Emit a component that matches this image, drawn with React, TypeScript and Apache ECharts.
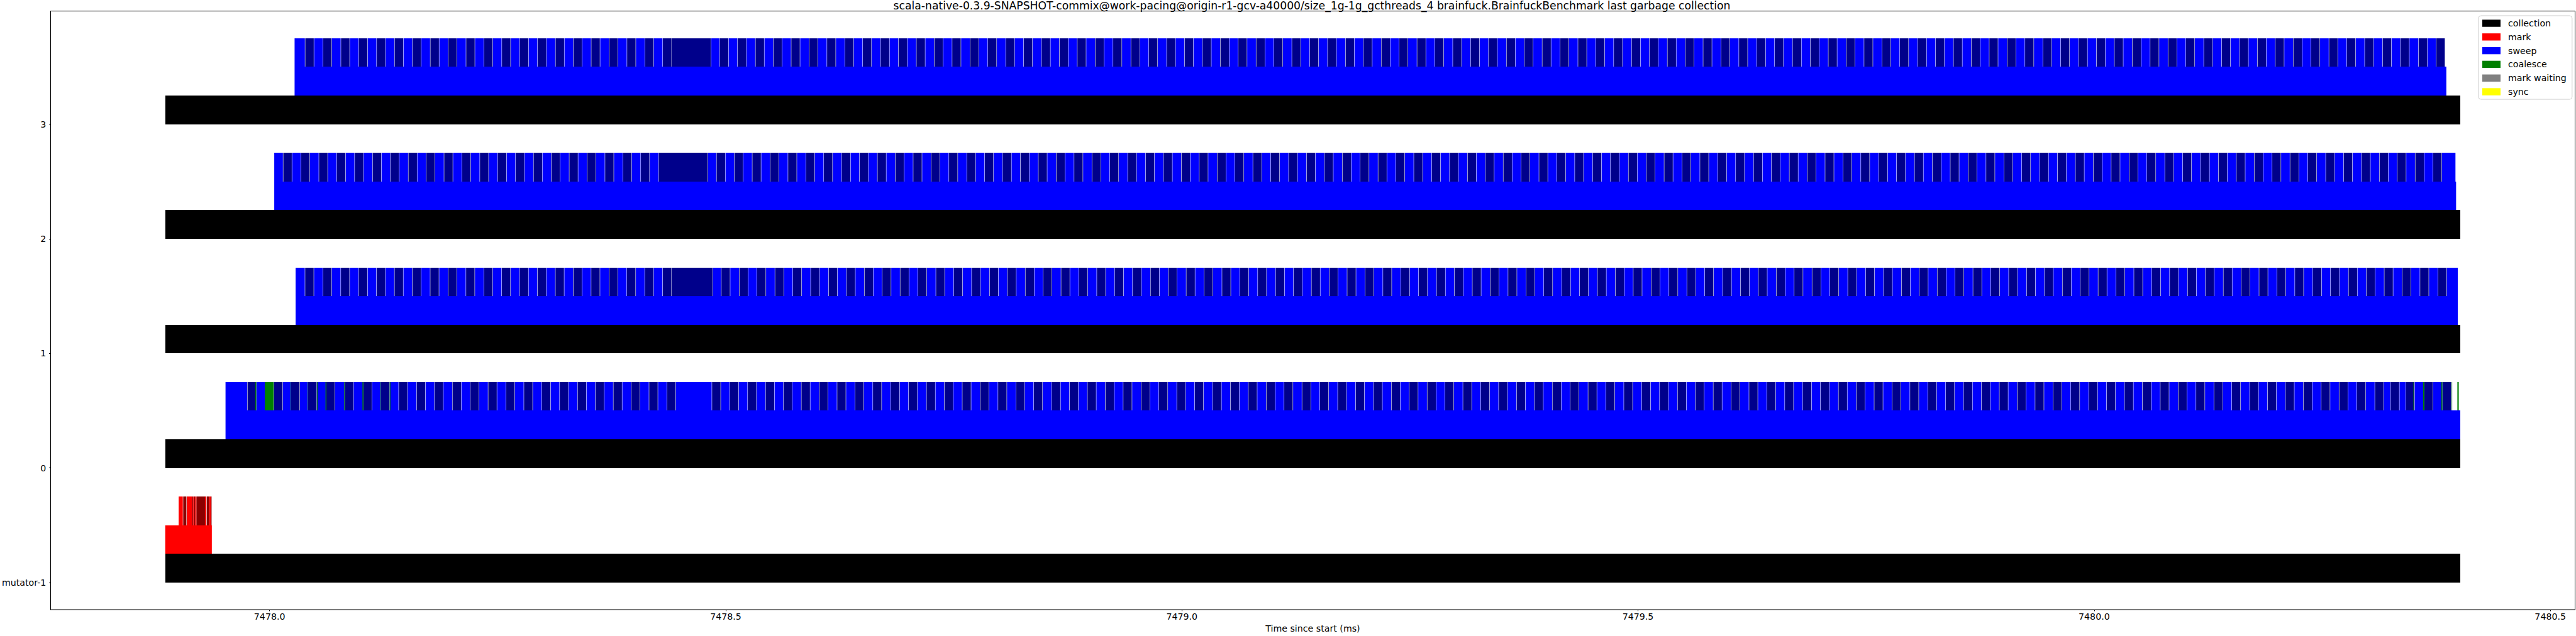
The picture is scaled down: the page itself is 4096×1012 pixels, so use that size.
import React, { useEffect, useRef } from "react";
import * as echarts from "echarts";

const TITLE =
  "scala-native-0.3.9-SNAPSHOT-commix@work-pacing@origin-r1-gcv-a40000/size_1g-1g_gcthreads_4 brainfuck.BrainfuckBenchmark last garbage collection";
const X_NAME = "Time since start (ms)";
const ROW_LABELS = ["mutator-1", "0", "1", "2", "3"];
const ROW_Y = [-1, 0, 1, 2, 3];
const X_TICKS = [7478.0, 7478.5, 7479.0, 7479.5, 7480.0, 7480.5];
const X_MIN = 7477.7599;
const X_MAX = 7480.5271;
const Y_MIN = -1.2375;
const Y_MAX = 3.9875;
const LEGEND_NAMES = ["collection", "mark", "sweep", "coalesce", "mark waiting", "sync"];
const LEGEND_COLORS = ["#000000", "#ff0000", "#0000ff", "#008000", "#808080", "#ffff00"];

// shade codes -> [series index, colour]
const SHADES: Record<string, [number, string]> = {
  K: [0, "#000000"],
  R: [1, "#ff0000"],
  D: [1, "#8b0000"],
  B: [2, "#0000ff"],
  N: [2, "#00008b"],
  G: [3, "#008000"],
  M: [4, "#808080"],
  Y: [5, "#ffff00"],
};

// level 0: collection bars (rows mutator-1, 0, 1, 2, 3)
const COLLECTION: [number, number][] = [
  [7477.8857, 7480.4013],
  [7477.8857, 7480.4013],
  [7477.8857, 7480.4013],
  [7477.8857, 7480.4013],
  [7477.8857, 7480.4013],
];

// level 1: phase bars per row [start, end, shade]
const PHASE: [number, number, string][][] = [
  [[7477.8856, 7477.9367, "R"]],
  [[7477.9517, 7480.4013, "B"]],
  [[7478.0285, 7480.3986, "B"]],
  [[7478.0051, 7480.3967, "B"]],
  [[7478.0274, 7480.386, "B"]],
];

// level 2, mutator-1: mark batches
const EVENTS_MUT: [number, number, string][] = [
  [7477.9003, 7477.9049, "R"],
  [7477.9053, 7477.9088, "D"],
  [7477.9092, 7477.9153, "R"],
  [7477.9153, 7477.9163, "D"],
  [7477.9163, 7477.9174, "R"],
  [7477.9174, 7477.9185, "D"],
  [7477.9185, 7477.9199, "R"],
  [7477.9199, 7477.9292, "D"],
  [7477.9292, 7477.9306, "R"],
  [7477.9311, 7477.9338, "D"],
  [7477.9338, 7477.9355, "R"],
  [7477.9355, 7477.9364, "D"],
];

// level 2, gc threads 0..3: sweep batch span, dark-batch starts, long dark batches
const SWEEP_SPAN: [number, number][] = [
  [7477.9517, 7480.3913],
  [7478.0285, 7480.3986],
  [7478.0051, 7480.396],
  [7478.0274, 7480.3843],
];
const DARK_W = 0.0093;
const DARK_0 = [
  7477.9758, 7478.0049, 7478.0236, 7478.0422, 7478.0622, 7478.0825, 7478.1028, 7478.122,
  7478.1417, 7478.1613, 7478.1809, 7478.2005, 7478.2201, 7478.2397, 7478.2593, 7478.2789,
  7478.2985, 7478.3181, 7478.3377, 7478.3573, 7478.3769, 7478.3965, 7478.4161, 7478.4357,
  7478.485, 7478.5046, 7478.5242, 7478.5438, 7478.5634, 7478.583, 7478.6026, 7478.6222,
  7478.6418, 7478.6614, 7478.681, 7478.7006, 7478.7202, 7478.7398, 7478.7594, 7478.779,
  7478.7986, 7478.8182, 7478.8378, 7478.8574, 7478.877, 7478.8966, 7478.9162, 7478.9358,
  7478.9554, 7478.975, 7478.9946, 7479.0142, 7479.0338, 7479.0534, 7479.073, 7479.0926,
  7479.1122, 7479.1318, 7479.1514, 7479.171, 7479.1906, 7479.2102, 7479.2298, 7479.2494,
  7479.269, 7479.2886, 7479.3082, 7479.3278, 7479.3474, 7479.367, 7479.3866, 7479.4062,
  7479.4258, 7479.4454, 7479.465, 7479.4846, 7479.5042, 7479.5238, 7479.5434, 7479.563,
  7479.5826, 7479.6022, 7479.6218, 7479.6414, 7479.661, 7479.6806, 7479.7002, 7479.7198,
  7479.7394, 7479.759, 7479.7786, 7479.7982, 7479.8178, 7479.8374, 7479.857, 7479.8766,
  7479.8962, 7479.9158, 7479.9354, 7479.955, 7479.9746, 7479.9942, 7480.0138, 7480.0334,
  7480.053, 7480.0726, 7480.0922, 7480.1118, 7480.1314, 7480.151, 7480.1706, 7480.1902,
  7480.2098, 7480.2294, 7480.249, 7480.2686, 7480.2882, 7480.3078, 7480.325, 7480.3417,
  7480.3619, 7480.382,
];
const DARK_1 = [
  7478.039, 7478.0586, 7478.0782, 7478.0978, 7478.1174, 7478.137, 7478.1566, 7478.1762,
  7478.1958, 7478.2154, 7478.235, 7478.2546, 7478.2742, 7478.2938, 7478.3134, 7478.333,
  7478.3526, 7478.3722, 7478.3918, 7478.4114, 7478.431,
  7478.4953, 7478.5149, 7478.5345, 7478.5541, 7478.5737, 7478.5933, 7478.6129, 7478.6325,
  7478.6521, 7478.6717, 7478.6913, 7478.7109, 7478.7305, 7478.7501, 7478.7697, 7478.7893,
  7478.8089, 7478.8285, 7478.8481, 7478.8677, 7478.8873, 7478.9069, 7478.9265, 7478.9461,
  7478.9657, 7478.9853, 7479.0049, 7479.0245, 7479.0441, 7479.0637, 7479.0833, 7479.1029,
  7479.1225, 7479.1421, 7479.1617, 7479.1813, 7479.2009, 7479.2205, 7479.2401, 7479.2597,
  7479.2793, 7479.2989, 7479.3185, 7479.3381, 7479.3577, 7479.3773, 7479.3969, 7479.4165,
  7479.4361, 7479.4557, 7479.4753, 7479.4949, 7479.5145, 7479.5341, 7479.5537, 7479.5733,
  7479.5929, 7479.6125, 7479.6321, 7479.6517, 7479.6713, 7479.6909, 7479.7105, 7479.7301,
  7479.7497, 7479.7693, 7479.7889, 7479.8085, 7479.8281, 7479.8477, 7479.8673, 7479.8869,
  7479.9065, 7479.9261, 7479.9457, 7479.9653, 7479.9849, 7480.0045, 7480.0241, 7480.0437,
  7480.0633, 7480.0829, 7480.1025, 7480.1221, 7480.1417, 7480.1613, 7480.1809, 7480.2005,
  7480.2201, 7480.2397, 7480.2593, 7480.2789, 7480.2985, 7480.3181, 7480.3377, 7480.3573,
  7480.3769,
];
const DARK_2 = [
  7478.015, 7478.0346, 7478.0542, 7478.0738, 7478.0934, 7478.113, 7478.1326, 7478.1522,
  7478.1718, 7478.1914, 7478.211, 7478.2306, 7478.2502, 7478.2698, 7478.2894, 7478.309,
  7478.3286, 7478.3482, 7478.3678, 7478.3874, 7478.407,
  7478.49, 7478.5096, 7478.5292, 7478.5488, 7478.5684, 7478.588, 7478.6076, 7478.6272,
  7478.6468, 7478.6664, 7478.686, 7478.7056, 7478.7252, 7478.7448, 7478.7644, 7478.784,
  7478.8036, 7478.8232, 7478.8428, 7478.8624, 7478.882, 7478.9016, 7478.9212, 7478.9408,
  7478.9604, 7478.98, 7478.9996, 7479.0192, 7479.0388, 7479.0584, 7479.078, 7479.0976,
  7479.1172, 7479.1368, 7479.1564, 7479.176, 7479.1956, 7479.2152, 7479.2348, 7479.2544,
  7479.274, 7479.2936, 7479.3132, 7479.3328, 7479.3524, 7479.372, 7479.3916, 7479.4112,
  7479.4308, 7479.4504, 7479.47, 7479.4896, 7479.5092, 7479.5288, 7479.5484, 7479.568,
  7479.5876, 7479.6072, 7479.6268, 7479.6464, 7479.666, 7479.6856, 7479.7052, 7479.7248,
  7479.7444, 7479.764, 7479.7836, 7479.8032, 7479.8228, 7479.8424, 7479.862, 7479.8816,
  7479.9012, 7479.9208, 7479.9404, 7479.96, 7479.9796, 7479.9992, 7480.0188, 7480.0384,
  7480.058, 7480.0776, 7480.0972, 7480.1168, 7480.1364, 7480.156, 7480.1756, 7480.1952,
  7480.2148, 7480.2344, 7480.254, 7480.2736, 7480.2932, 7480.3128, 7480.3324, 7480.352,
  7480.3716,
];
const DARK_3 = [
  7478.0391, 7478.0587, 7478.0783, 7478.0979, 7478.1175, 7478.1371, 7478.1567, 7478.1763,
  7478.1959, 7478.2155, 7478.2351, 7478.2547, 7478.2743, 7478.2939, 7478.3135, 7478.3331,
  7478.3527, 7478.3723, 7478.3919, 7478.4115, 7478.4311,
  7478.4935, 7478.5131, 7478.5327, 7478.5523, 7478.5719, 7478.5915, 7478.6111, 7478.6307,
  7478.6503, 7478.6699, 7478.6895, 7478.7091, 7478.7287, 7478.7483, 7478.7679, 7478.7875,
  7478.8071, 7478.8267, 7478.8463, 7478.8659, 7478.8855, 7478.9051, 7478.9247, 7478.9443,
  7478.9639, 7478.9835, 7479.0031, 7479.0227, 7479.0423, 7479.0619, 7479.0815, 7479.1011,
  7479.1207, 7479.1403, 7479.1599, 7479.1795, 7479.1991, 7479.2187, 7479.2383, 7479.2579,
  7479.2775, 7479.2971, 7479.3167, 7479.3363, 7479.3559, 7479.3755, 7479.3951, 7479.4147,
  7479.4343, 7479.4539, 7479.4735, 7479.4931, 7479.5127, 7479.5323, 7479.5519, 7479.5715,
  7479.5911, 7479.6107, 7479.6303, 7479.6499, 7479.6695, 7479.6891, 7479.7087, 7479.7283,
  7479.7479, 7479.7675, 7479.7871, 7479.8067, 7479.8263, 7479.8459, 7479.8655, 7479.8851,
  7479.9047, 7479.9243, 7479.9439, 7479.9635, 7479.9831, 7480.0027, 7480.0223, 7480.0419,
  7480.0615, 7480.0811, 7480.1007, 7480.1203, 7480.1399, 7480.1595, 7480.1791, 7480.1987,
  7480.2183, 7480.2379, 7480.2575, 7480.2771, 7480.2967, 7480.3163, 7480.3359, 7480.3557,
  7480.375,
];
const DARK_STARTS = [DARK_0, DARK_1, DARK_2, DARK_3];
const DARK_BLOCKS: [number, number][][] = [
  [],
  [[7478.4406, 7478.4856]],
  [[7478.4266, 7478.4803]],
  [[7478.4406, 7478.4838]],
];
// coalesce events on thread 0
const COALESCE_0: [number, number][] = [
  [7477.9844, 7477.9854],
  [7477.9948, 7478.0044],
  [7478.0231, 7478.0236],
  [7478.0418, 7478.0422],
  [7478.0518, 7478.0526],
  [7478.0613, 7478.0622],
  [7478.0818, 7478.0825],
  [7478.1018, 7478.1028],
  [7478.1215, 7478.122],
  [7478.1316, 7478.1324],
  [7480.3499, 7480.3503],
  [7480.3605, 7480.3619],
  [7480.3806, 7480.3817],
  [7480.392, 7480.3924],
  [7480.3981, 7480.3992],
  [7480.3995, 7480.3999],
];
const BATCH_GAP = 0.0004;

const LEVEL_H = 0.25;
const SHADE_LIST = Object.keys(SHADES);

function buildSeriesData() {
  const out: number[][][] = LEGEND_NAMES.map(() => []);
  const push = (row: number, level: number, s: number, e: number, code: string) => {
    const [si] = SHADES[code];
    out[si].push([s, e, ROW_Y[row] + level * LEVEL_H, LEVEL_H, SHADE_LIST.indexOf(code)]);
  };
  COLLECTION.forEach(([s, e], r) => push(r, 0, s, e, "K"));
  PHASE.forEach((list, r) => list.forEach(([s, e, c]) => push(r, 1, s, e, c)));
  EVENTS_MUT.forEach(([s, e, c]) => push(0, 2, s, e, c));
  SWEEP_SPAN.forEach(([start, end], t) => {
    const row = t + 1;
    const dark: [number, number][] = DARK_STARTS[t]
      .map((s) => [s, Math.min(s + DARK_W, end)] as [number, number])
      .concat(DARK_BLOCKS[t])
      .sort((a, b) => a[0] - b[0]);
    let cursor = start;
    let first = true;
    dark.forEach(([s, e]) => {
      const bs = first ? cursor : cursor + BATCH_GAP;
      const be = s - BATCH_GAP;
      if (be > bs) push(row, 2, bs, be, "B");
      push(row, 2, s, e, "N");
      cursor = Math.max(cursor, e);
      first = false;
    });
    if (cursor + BATCH_GAP < end) push(row, 2, cursor + BATCH_GAP, end, "B");
  });
  COALESCE_0.forEach(([s, e]) => push(1, 2, s, e, "G"));
  return out;
}

const renderItem = (params: any, api: any) => {
  const x0 = api.value(0);
  const x1 = api.value(1);
  const yb = api.value(2);
  const h = api.value(3);
  const code = SHADE_LIST[api.value(4)];
  const p0 = api.coord([x0, yb + h]);
  const p1 = api.coord([x1, yb]);
  const top = Math.round(p0[1]);
  const bottom = Math.round(p1[1]);
  return {
    type: "rect",
    shape: { x: p0[0], y: top, width: p1[0] - p0[0], height: bottom - top },
    style: { fill: SHADES[code][1] },
  };
};

export default function App() {
  const ref = useRef<HTMLDivElement>(null);
  useEffect(() => {
    if (!ref.current) return;
    const chart = echarts.init(ref.current, undefined, { renderer: "svg" });
    const data = buildSeriesData();
    const font = "DejaVu Sans";
    chart.setOption({
      animation: false,
      backgroundColor: "#ffffff",
      textStyle: { fontFamily: font },
      title: {
        text: TITLE,
        left: 2086,
        top: 0.5,
        padding: 0,
        textAlign: "center",
        textStyle: { fontFamily: font, fontSize: 17.2, fontWeight: "normal", color: "#000", lineHeight: 17.2 },
      },
      legend: {
        orient: "vertical",
        left: 3941,
        top: 25,
        padding: [5, 9, 5, 6],
        itemWidth: 29,
        itemHeight: 11.4,
        itemGap: 7.8,
        icon: "rect",
        backgroundColor: "#ffffff",
        borderColor: "#cccccc",
        borderWidth: 1,
        borderRadius: 4,
        data: LEGEND_NAMES,
        textStyle: { fontFamily: font, fontSize: 14.2, color: "#000", lineHeight: 14, padding: [0, 0, 0, 7] },
      },
      grid: {
        left: 78,
        right: 1.5,
        top: 17.6,
        bottom: 36.4,
        show: true,
        borderColor: "#000",
        borderWidth: 1,
        backgroundColor: "transparent",
      },
      xAxis: {
        type: "value",
        min: X_MIN,
        max: X_MAX,
        name: X_NAME,
        nameLocation: "middle",
        nameGap: 20,
        nameTextStyle: { fontFamily: font, fontSize: 14.2, color: "#000", lineHeight: 14.2 },
        axisLine: { show: true, onZero: false, lineStyle: { color: "#000", width: 1 } },
        axisTick: { show: true, length: 2.3, customValues: X_TICKS, lineStyle: { color: "#000" } },
        axisLabel: {
          customValues: X_TICKS,
          margin: 3.5,
          fontFamily: font,
          fontSize: 14.2,
          lineHeight: 14.2,
          color: "#000",
          formatter: (v: number) => v.toFixed(1),
        },
        splitLine: { show: false },
      },
      yAxis: {
        type: "value",
        min: Y_MIN,
        max: Y_MAX,
        axisLine: { show: true, onZero: false, lineStyle: { color: "#000", width: 1 } },
        axisTick: { show: true, length: 2.4, customValues: ROW_Y, lineStyle: { color: "#000" } },
        axisLabel: {
          customValues: ROW_Y,
          margin: 7,
          fontFamily: font,
          fontSize: 14.2,
          color: "#000",
          formatter: (v: number) => ROW_LABELS[ROW_Y.indexOf(Math.round(v))] ?? "",
        },
        splitLine: { show: false },
      },
      series: LEGEND_NAMES.map((name, i) => ({
        name,
        type: "custom",
        renderItem,
        itemStyle: { color: LEGEND_COLORS[i] },
        encode: { x: [0, 1], y: 2 },
        data: data[i],
        clip: true,
      })),
    });
    return () => chart.dispose();
  }, []);
  return (
    <div
      ref={ref}
      style={{ position: "fixed", left: 0, top: 0, width: 4096, height: 1012, background: "#fff" }}
    />
  );
}
